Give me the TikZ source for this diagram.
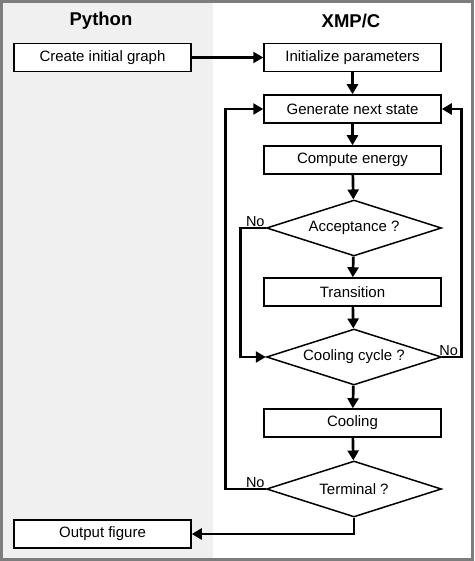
\documentclass[tikz,border=0pt]{standalone}
\usepackage{fontspec}
\setmainfont{Liberation Sans}
\usetikzlibrary{shapes.geometric,arrows.meta}
\definecolor{panel}{RGB}{240,240,240}
\definecolor{frame}{RGB}{125,125,125}
\tikzset{
	stepbox/.style={draw, line width=1.5pt, fill=white, minimum width=177pt, minimum height=28pt, inner sep=0pt, font=\fontsize{15}{15}\selectfont},
	decide/.style={draw, diamond, aspect=3, line width=1.5pt, fill=white, minimum width=175pt, minimum height=56pt, inner sep=0pt, font=\fontsize{15}{15}\selectfont},
	head/.style={font=\fontsize{18.5}{18.5}\selectfont\bfseries},
	nolabel/.style={inner sep=1pt, font=\fontsize{14.5}{14.5}\selectfont},
	flow/.style={line width=2.7pt, -{Triangle[length=10pt, width=11pt]}},
}
\begin{document}
\begin{tikzpicture}[x=1pt, y=-1pt]
	\useasboundingbox(0, 0) rectangle (474, 561);
	\fill[panel](0, 0) rectangle (213, 561);
	\draw[frame, line width=3pt](1.5, 1.5) rectangle (472.5, 559.5);

	\node[head](python) at(101, 21){Python};
	\node[head](xmpc) at(351, 21){XMP/C};

	\node[stepbox](create) at(102.5, 57.5){Create initial graph};
	\node[stepbox](init) at(352.5, 57.5){Initialize parameters};
	\node[stepbox](gen) at(352.5, 109){Generate next state};
	\node[stepbox](energy) at(352.5, 160){Compute energy};
	\node[decide](accept) at(354, 228){Acceptance ?};
	\node[stepbox](trans) at(352.5, 292){Transition};
	\node[decide](cycle) at(354, 357){Cooling cycle ?};
	\node[stepbox](cooling) at(352.5, 423){Cooling};
	\node[decide](term) at(354, 489){Terminal ?};
	\node[stepbox](output) at(102.5, 534){Output figure};

	\draw[flow](create) to (init);
	\draw[flow](init) to (gen);
	\draw[flow](gen) to (energy);
	\draw[flow](energy) to (accept);
	\draw[flow](accept) to (trans);
	\draw[flow](trans) to (cycle);
	\draw[flow](cycle) to (cooling);
	\draw[flow](cooling) to (term);
	\draw[flow](term.south) |- (output.east);

	\draw[flow](accept.west) -- ++(-25, 0) |- (cycle.west);
	\node[nolabel, anchor=south east] at(accept.west){No};
	\draw[flow](cycle.east) -- ++(19, 0) |- (gen.east);
	\node[nolabel, anchor=south west] at([xshift=-4pt]cycle.east){No};
	\draw[flow](term.west) -- ++(-40, 0) |- (gen.west);
	\node[nolabel, anchor=south east] at(term.west){No};
\end{tikzpicture}
\end{document}
